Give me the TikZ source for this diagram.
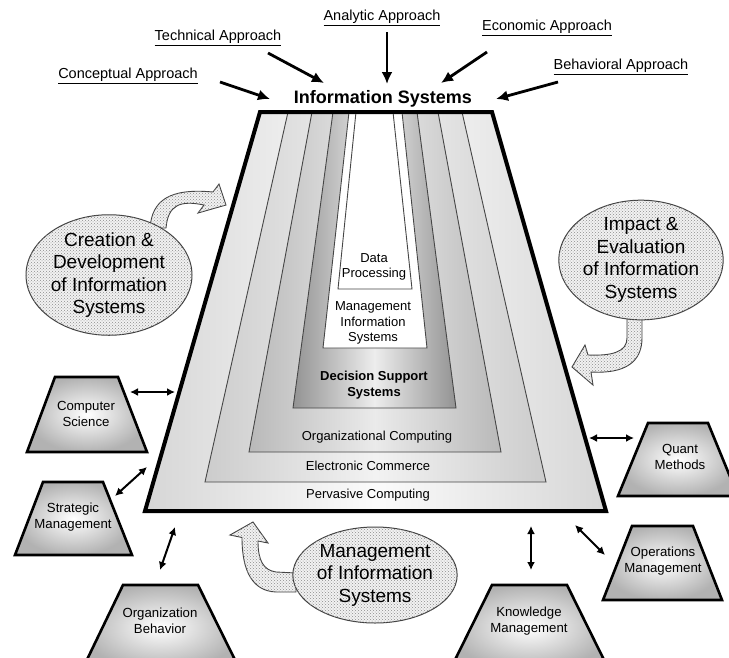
\documentclass[tikz,border=0pt]{standalone}
\usepackage{fontspec}
\setmainfont{Liberation Sans}
\usetikzlibrary{arrows.meta,shapes.geometric,patterns}
\tikzset{
  lbl/.style={font=\fontsize{14.5}{17}\selectfont, inner sep=0pt},
  title/.style={font=\fontsize{18}{21}\selectfont\bfseries, inner sep=0pt},
  apparrow/.style={line width=2.8pt, -{Latex[length=12pt,width=11pt]}},
  dblarrow/.style={line width=2pt, {Latex[length=8pt,width=8pt]}-{Latex[length=8pt,width=8pt]}},
  layertext/.style={font=\fontsize{13}{15.5}\selectfont, align=center, inner sep=0pt},
  layerline/.style={draw=gray!55!black, line width=0.9pt},
  smalltrap/.style={draw=black, line width=2.6pt, line join=miter, inner color=white, outer color=gray!60},
  traptext/.style={font=\fontsize{13.2}{15.5}\selectfont, align=center, inner sep=0pt},
  dotfill/.style={fill=gray!10, postaction={pattern=crosshatch dots, pattern color=gray!90}},
  fatarrow/.style={draw=gray!50!black, line width=0.9pt, dotfill},
  bubble/.style={ellipse, draw=gray!50!black, line width=1pt, dotfill, inner sep=0pt, align=center,
     font=\fontsize{19}{22.5}\selectfont}
}
\begin{document}
\begin{tikzpicture}[x=1pt,y=-1pt]
\useasboundingbox (0,0) rectangle (729,657);
\clip (0,0) rectangle (729,657);
\fill[white] (0,0) rectangle (729,657);

% nested layers
\path[layerline, left color=gray!32, right color=gray!32, middle color=gray!3]
  (260,112) -- (492,112) -- (606,511) -- (145,511) -- cycle;
\path[layerline, left color=gray!40, right color=gray!40, middle color=gray!10]
  (288,112) -- (462,112) -- (546,482) -- (205,482) -- cycle;
\path[layerline, left color=gray!55, right color=gray!55, middle color=gray!16]
  (312,112) -- (438,112) -- (501,452) -- (249,452) -- cycle;
\path[layerline, left color=gray!85, right color=gray!85, middle color=gray!14]
  (333,112) -- (417,112) -- (456,408) -- (293,408) -- cycle;
\path[layerline, fill=white]
  (349,112) -- (402,112) -- (427,348) -- (323,348) -- cycle;
\path[layerline, fill=white]
  (356,112) -- (393,112) -- (412,289) -- (338,289) -- cycle;

\node[layertext] (dp) at (374,267) {Data\\Processing};
\node[layertext] (mis) at (373,323) {Management\\Information\\Systems};
\node[layertext, font=\fontsize{13}{15.5}\selectfont\bfseries] (dss) at (374,385) {Decision Support\\Systems};
\node[layertext] (oc) at (377,437) {Organizational Computing};
\node[layertext] (ec) at (368,466) {Electronic Commerce};
\node[layertext] (pc) at (368,495) {Pervasive Computing};

% outer border
\draw[line width=4pt, line join=miter] (260,112) coordinate (isTL) -- (492,112) coordinate (isTR)
  -- (606,511) coordinate (isBR) -- (145,511) coordinate (isBL) -- cycle;

% fat curved arrows
\path[fatarrow] (150,228) .. controls (152,200) and (170,188) .. (213,192) -- (219,184) -- (226,205)
  -- (198,213) -- (204,205) .. controls (180,200) and (168,205) .. (166,228) -- cycle;
\path[fatarrow] (627,316) -- (627,338) .. controls (627,352) and (612,356) .. (588,355) -- (585,345)
  -- (572,367) -- (593,385) -- (591,372) .. controls (625,374) and (642,362) .. (642,338) -- (642,316) -- cycle;
\path[fatarrow] (296,573) -- (276,572) .. controls (263,570) and (258,560) .. (258,541) -- (268,543)
  -- (253,522) -- (230,535) -- (242,537.5) .. controls (242,572) and (253,591) .. (276,592) -- (296,592) -- cycle;

% bubbles
\node[bubble, minimum width=166pt, minimum height=116pt] (create) at (109,275)
  {Creation \&\\Development\\of Information\\Systems};
\node[bubble, minimum width=164pt, minimum height=116pt] (impact) at (641,260)
  {Impact \&\\Evaluation\\of Information\\Systems};
\node[bubble, minimum width=164pt, minimum height=96pt] (manage) at (375,575)
  {Management\\of Information\\Systems};

% small trapezoids
\path[smalltrap] (55,377) -- (118,377) -- (147,452) -- (27,452) -- cycle;
\node[traptext] (cs) at (86,414) {Computer\\Science};
\path[smalltrap] (43,482) -- (103,482) -- (132,555) -- (15,555) -- cycle;
\node[traptext] (sm) at (73,517) {Strategic\\Management};
\path[smalltrap] (123,585) -- (198,585) -- (240,670) -- (82,670) -- cycle;
\node[traptext] (ob) at (160,621) {Organization\\Behavior};
\path[smalltrap] (492,585) -- (567,585) -- (609,670) -- (450,670) -- cycle;
\node[traptext] (km) at (529,621) {Knowledge\\Management};
\path[smalltrap] (648,423) -- (708,423) -- (738,496) -- (618,496) -- cycle;
\node[traptext] (qm) at (680,457) {Quant\\Methods};
\path[smalltrap] (632,526) -- (693,526) -- (722,600) -- (603,600) -- cycle;
\node[traptext] (om) at (663,561) {Operations\\Management};

% double arrows
\coordinate (csA) at (130,392); \coordinate (csB) at (175,392);
\coordinate (smA) at (115,496); \coordinate (smB) at (147,467);
\coordinate (obA) at (160,570); \coordinate (obB) at (175,527);
\coordinate (qmA) at (634,438); \coordinate (qmB) at (589,438);
\coordinate (omA) at (605,555); \coordinate (omB) at (575,525);
\coordinate (kmA) at (531,570); \coordinate (kmB) at (531,526);
\draw[dblarrow] (csA) -- (csB);
\draw[dblarrow] (smA) -- (smB);
\draw[dblarrow] (obA) -- (obB);
\draw[dblarrow] (qmA) -- (qmB);
\draw[dblarrow] (omA) -- (omB);
\draw[dblarrow] (kmA) -- (kmB);

% top labels
\node[title] (is) at (383,99) {Information Systems};
\node[lbl] (ana) at (382,18) {\underline{Analytic Approach}};
\node[lbl] (tech) at (218,38) {\underline{Technical Approach}};
\node[lbl] (eco) at (547,28) {\underline{Economic Approach}};
\node[lbl] (con) at (128,76) {\underline{Conceptual Approach}};
\node[lbl] (beh) at (621,67) {\underline{Behavioral Approach}};

\coordinate (anaS) at (387,32); \coordinate (anaE) at (387,84);
\coordinate (techS) at (268,53); \coordinate (techE) at (324,83);
\coordinate (ecoS) at (487,52); \coordinate (ecoE) at (441,83);
\coordinate (conS) at (220,82); \coordinate (conE) at (270,99);
\coordinate (behS) at (558,82); \coordinate (behE) at (496,99);
\draw[apparrow] (anaS) -- (anaE);
\draw[apparrow] (techS) -- (techE);
\draw[apparrow] (ecoS) -- (ecoE);
\draw[apparrow] (conS) -- (conE);
\draw[apparrow] (behS) -- (behE);
\end{tikzpicture}
\end{document}
